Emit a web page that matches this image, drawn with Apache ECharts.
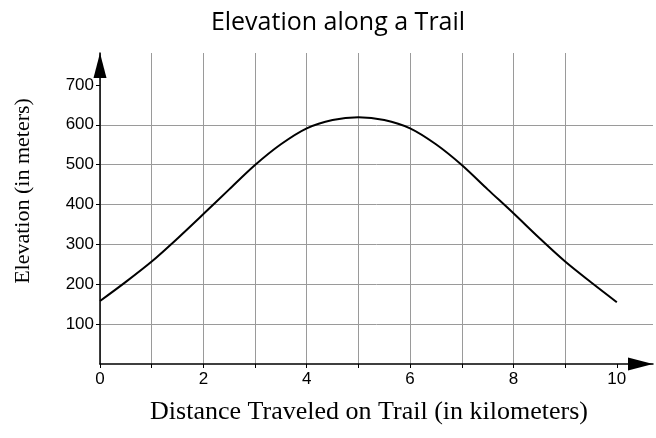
<!DOCTYPE html>
<html>
<head>
<meta charset="utf-8">
<script src="https://cdn.jsdelivr.net/npm/echarts@6/dist/echarts.min.js"></script>
<style>html,body{margin:0;padding:0;background:#fff}#c{width:656px;height:438px}</style>
</head>
<body>
<div id="c"></div>
<script>
const distanceKm = [0,0.5,1,1.5,2,2.5,3,3.5,4,4.5,5,5.5,6,6.5,7,7.5,8,8.5,9,9.5,10];
const elevationM = [158,206,257,315,376,438,499,551,591,612,619,612,591,551,499,438,378,316,257,205,155];
const xTickLabels = [0,2,4,6,8,10];
const xTickMarks = [0,1,2,3,4,5,6,7,8,9,10];
const yTickLabels = [100,200,300,400,500,600,700];
const yTickMarks = [100,200,300,400,500,600,700];

const chart = echarts.init(document.getElementById('c'), null, {renderer:'canvas'});
chart.setOption({
  animation:false,
  title:{text:'Elevation along a Trail', left:333, top:5, textAlign:'center',
    textStyle:{fontFamily:'Open Sans', fontWeight:'normal', fontSize:25, color:'#000'}},
  grid:{left:100, right:3, top:53, bottom:74, containLabel:false},
  graphic:[
    {type:'text', x:23, y:191, rotation:Math.PI/2,
      style:{text:'Elevation (in meters)', font:'22px "Liberation Serif"', fill:'#000', align:'center', verticalAlign:'middle'}},
    {type:'text', x:369, y:412,
      style:{text:'Distance Traveled on Trail (in kilometers)', font:'26px "Liberation Serif"', fill:'#000', align:'center', verticalAlign:'middle'}}
  ],
  xAxis:{type:'value', min:0, max:10.7, interval:1,
    axisLine:{show:true, lineStyle:{color:'#000', width:1.5}, symbol:['none','triangle'], symbolSize:[13,25], symbolOffset:[0,-12.5]},
    axisTick:{show:true, length:4, inside:false, customValues:xTickMarks, lineStyle:{color:'#000'}},
    axisLabel:{customValues:xTickLabels, margin:7, fontFamily:'Liberation Sans', fontSize:17, color:'#000'},
    splitLine:{show:true, showMaxLine:false, lineStyle:{color:'#9a9a9a', width:1}}
  },
  yAxis:{type:'value', min:0, max:780, interval:100,
    axisLine:{show:true, lineStyle:{color:'#000', width:1.5}, symbol:['none','triangle'], symbolSize:[13,25], symbolOffset:[0,-12.5]},
    axisTick:{show:true, length:4, inside:false, customValues:yTickMarks, lineStyle:{color:'#000'}},
    axisLabel:{customValues:yTickLabels, margin:6, fontFamily:'Liberation Sans', fontSize:17, color:'#000'},
    splitLine:{show:true, showMaxLine:false, lineStyle:{color:'#9a9a9a', width:1}}
  },
  series:[{type:'line', data:distanceKm.map((x,i)=>[x, elevationM[i]]), smooth:0.3, showSymbol:false,
    lineStyle:{color:'#000', width:2}}]
});
</script>
</body>
</html>
